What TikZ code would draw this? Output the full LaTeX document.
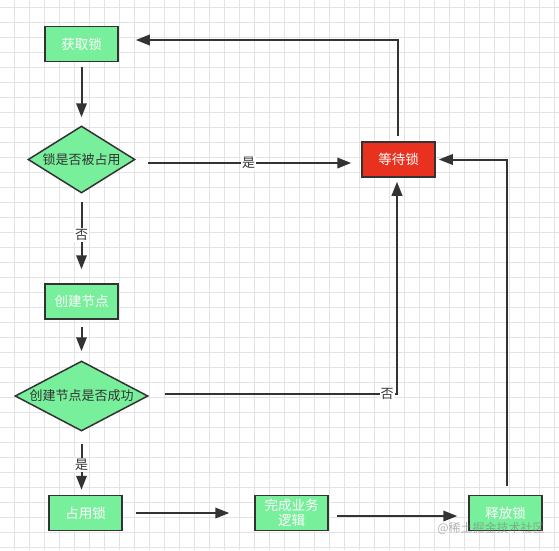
\documentclass[tikz,border=0pt]{standalone}
\usepackage{fontspec}
\setmainfont{Noto Sans CJK SC}
\usepackage{tikz}
\usetikzlibrary{positioning}
\usetikzlibrary{shapes.geometric}
\usetikzlibrary{arrows.meta}
\usepackage{xcolor}
\definecolor{boxgreen}{HTML}{78EF9B}
\definecolor{waitred}{HTML}{E8321F}
\definecolor{edgegray}{HTML}{333333}
\definecolor{gridgray}{HTML}{E3E3E3}

\begin{document}
\begin{tikzpicture}[x=1pt, y=-1pt,
    box/.style={draw=edgegray, line width=1.5pt, fill=boxgreen, text=white,
        minimum width=73pt, minimum height=35pt, inner sep=0pt, align=center,
        font=\fontsize{13.5}{15.5}\selectfont},
    choice/.style={diamond, aspect=2, draw=edgegray, line width=1.5pt, fill=boxgreen,
        text=edgegray, inner sep=0pt, font=\fontsize{13}{14}\selectfont},
    flow/.style={draw=edgegray, line width=2pt, -{Triangle[length=14pt,width=10.5pt]}},
    tag/.style={fill=white, inner sep=1pt, text=edgegray, font=\fontsize{13}{13}\selectfont}]
    \useasboundingbox (0,0) rectangle (559,550);
    \fill[white] (0,0) rectangle (559,550);

    % Background grid
    \foreach \gx in {0,...,36}
        \draw[gridgray, line width=1pt] (14.5+15*\gx,0) -- (14.5+15*\gx,550);
    \foreach \gy in {0,...,36}
        \draw[gridgray, line width=1pt] (0,7.5+15*\gy) -- (559,7.5+15*\gy);

    % Steps
    \node[box] (get) at (81.5,44) {获取锁};
    \node[choice, minimum width=107pt, minimum height=67pt] (busy) at (81.5,159.5) {锁是否被占用};
    \node[box, fill=waitred] (wait) at (398.5,159.5) {等待锁};
    \node[box] (create) at (81.5,301.5) {创建节点};
    \node[choice, minimum width=133pt, minimum height=70pt] (done) at (81.5,396) {创建节点是否成功};
    \node[box] (hold) at (85.5,513) {占用锁};
    \node[box] (work) at (291.5,513) {完成业务\\逻辑};
    \node[box] (release) at (505.5,513) {释放锁};

    % Main flow
    \draw[flow, shorten <=5pt, shorten >=8pt] (get) -- (busy);
    \draw[flow, shorten <=12pt, shorten >=10pt] ([yshift=-3.5pt]busy.east) -- ([yshift=-3.5pt]wait.west)
        node[tag, midway] (yes1) {是};
    \draw[flow, shorten <=8pt, shorten >=14pt] (busy) -- (create)
        node[tag, pos=0.46] (no1) {否};
    \draw[flow, shorten <=7pt, shorten >=9pt] (create) -- (done);
    \draw[flow, shorten <=12pt, shorten >=5pt] (done.south) -- (done.south |- hold.north)
        node[tag, pos=0.53] (yes2) {是};
    \draw[flow, shorten <=13pt, shorten >=25pt] (hold) -- (work);
    \draw[flow, shorten <=8pt, shorten >=11pt] ([yshift=-3pt]work.east) -- ([yshift=-3pt]release.west);

    % Loops back
    \draw[flow, shorten <=5pt, shorten >=17pt] ([xshift=-1pt]wait.north) |- ([yshift=4pt]get.east);
    \draw[flow, shorten <=16pt, shorten >=4pt] ([yshift=2.5pt]done.east) -| ([xshift=-1.5pt]wait.south)
        node[tag, pos=0.48] (no2) {否};
    \draw[flow, shorten <=9pt, shorten >=3pt] ([xshift=1pt]release.north) |- (wait.east);

    % Watermark
    \node[text=gray, opacity=0.6, font=\fontsize{12}{12}\selectfont] (watermark) at (491,528) {@稀土掘金技术社区};
\end{tikzpicture}
\end{document}
